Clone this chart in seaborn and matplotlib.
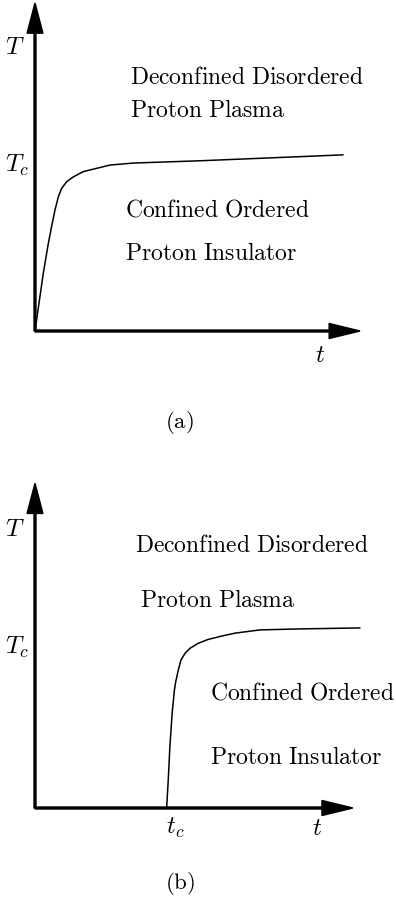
import matplotlib
matplotlib.use("Agg")
import matplotlib.pyplot as plt
import seaborn as sns
import pandas as pd

sns.set_theme(style="white")
plt.rcParams["mathtext.fontset"] = "cm"

# Phase boundary T(t), panel (a): grows from the origin and saturates near T_c
t_a = [0.0, 0.255, 0.41, 0.51, 0.615, 0.717, 0.82, 0.975, 1.18, 1.49,
       1.90, 2.31, 3.02, 5.08, 9.48]
T_a = [0.0, 1.76, 2.67, 3.18, 3.69, 4.09, 4.35, 4.55, 4.70, 4.86,
       4.96, 5.06, 5.12, 5.19, 5.37]

# Phase boundary T(t), panel (b): onset at t_c then saturation near T_c
t_b = [4.05, 4.10, 4.15, 4.22, 4.29, 4.33, 4.41, 4.49, 4.62, 4.77,
       5.02, 5.33, 5.74, 6.15, 6.92, 8.15, 10.0]
T_b = [0.00, 0.85, 1.87, 2.89, 3.60, 3.85, 4.21, 4.51, 4.72, 4.87,
       5.02, 5.14, 5.24, 5.33, 5.43, 5.46, 5.49]

phase_upper = ["Deconfined Disordered", "Proton Plasma"]
phase_lower = ["Confined Ordered", "Proton Insulator"]
panel_tags = ["(a)", "(b)"]

W, H = 396, 914
fig = plt.figure(figsize=(W / 100, H / 100), dpi=100)

PX_T = 32.5   # pixels per unit of t
PX_Y = 32.8   # pixels per unit of T


def make_axes(y0_px, y1_px, origin_px):
    ax = fig.add_axes([0, 1 - y1_px / H, 1, (y1_px - y0_px) / H])
    ax.set_xlim(-origin_px[0] / PX_T, (W - origin_px[0]) / PX_T)
    ax.set_ylim((origin_px[1] - y1_px) / PX_Y, (origin_px[1] - y0_px) / PX_Y)
    ax.set_axis_off()
    return ax


def draw_frame(ax, t_end, T_end):
    kw = dict(color="black", length_includes_head=True, width=0.06,
              overhang=0, zorder=3)
    ax.arrow(0, 0, 0, T_end, head_width=0.49, head_length=0.92, **kw)
    ax.arrow(0, 0, t_end, 0, head_width=0.46, head_length=0.95, **kw)


def txt(ax, x, y, s, size=17, ha="left"):
    ax.text(x, y, s, fontsize=size, ha=ha, va="center", color="black")


def roman(s):
    return r"$\mathrm{" + s.replace(" ", r"\ ") + "}$"


# ---- panel (a)
ax1 = make_axes(0, 457, (35, 331))
draw_frame(ax1, 10.0, 10.0)
sns.lineplot(data=pd.DataFrame({"t": t_a, "T": T_a}), x="t", y="T", ax=ax1,
             color="black", lw=1.1, sort=False, estimator=None)
txt(ax1, -0.62, 8.66, r"$T$", size=18, ha="center")
txt(ax1, -0.55, 5.06, r"$T_c$", size=18, ha="center")
txt(ax1, 8.77, -0.73, r"$t$", size=18, ha="center")
txt(ax1, 2.92, 7.74, roman(phase_upper[0]))
txt(ax1, 2.92, 6.74, roman(phase_upper[1]))
txt(ax1, 2.77, 3.69, roman(phase_lower[0]))
txt(ax1, 2.77, 2.38, roman(phase_lower[1]))
txt(ax1, 4.46, -2.80, roman(panel_tags[0]), size=16.5, ha="center")

# ---- panel (b)
ax2 = make_axes(457, 914, (35, 808))
draw_frame(ax2, 9.78, 9.9)
sns.lineplot(data=pd.DataFrame({"t": t_b, "T": T_b}), x="t", y="T", ax=ax2,
             color="black", lw=1.1, sort=False, estimator=None)
txt(ax2, -0.62, 8.50, r"$T$", size=18, ha="center")
txt(ax2, -0.55, 4.91, r"$T_c$", size=18, ha="center")
txt(ax2, 4.31, -0.62, r"$t_c$", size=18, ha="center")
txt(ax2, 8.68, -0.62, r"$t$", size=18, ha="center")
txt(ax2, 3.08, 8.02, roman(phase_upper[0]))
txt(ax2, 3.23, 6.34, roman(phase_upper[1]))
txt(ax2, 5.38, 3.51, roman(phase_lower[0]))
txt(ax2, 5.38, 1.55, roman(phase_lower[1]))
txt(ax2, 4.46, -2.29, roman(panel_tags[1]), size=16.5, ha="center")

fig.savefig("out.png", dpi=100, facecolor="white")
